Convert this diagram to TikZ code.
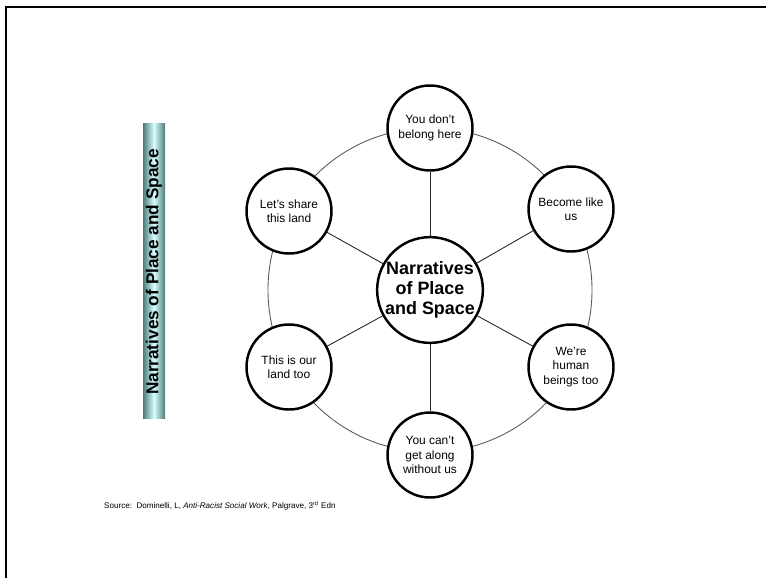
\documentclass[tikz,border=0pt]{standalone}
\usepackage{fontspec}
\setmainfont{Liberation Sans}
\usetikzlibrary{positioning,backgrounds}

\tikzset{
  topic/.style={circle, draw=black, line width=1.4pt, fill=white, minimum size=1.7cm,
    inner sep=0pt, align=center, font=\fontsize{6.8}{8.2}\selectfont},
  hub/.style={circle, draw=black, line width=1.4pt, fill=white, minimum size=2.1cm,
    inner sep=0pt, align=center, font=\bfseries\fontsize{10.2}{11.4}\selectfont},
  spoke/.style={draw=black!85, line width=0.5pt},
  ring/.style={draw=black!65, line width=0.5pt}
}

\begin{document}
\begin{tikzpicture}[x=0.02cm, y=-0.02cm]
    \useasboundingbox (0,0) rectangle (766,578);
    % frame
    \draw[line width=1.4pt] (6,578) -- (6,7) -- (766,7);
    % side bar
    \shade[left color=black!55!cyan!40!gray, right color=black!55!cyan!40!gray, middle color=cyan!15!white]
        (143,123) rectangle (165,418);
    \node[rotate=90, font=\bfseries\fontsize{9.8}{12}\selectfont] (title) at (154,272) {Narratives of Place and Space};

    \node[hub] (hub) at (430,290) {Narratives\\of Place\\and Space};

    \node[topic] (n1) at (430,128) {You don't\\belong here};
    \node[topic] (n2) at (571,209) {Become like\\us};
    \node[topic] (n3) at (571,367) {We're\\human\\beings too};
    \node[topic] (n4) at (430,455) {You can't\\get along\\without us};
    \node[topic] (n5) at (289,367) {This is our\\land too};
    \node[topic] (n6) at (289,211) {Let's share\\this land};

    \begin{pgfonlayer}{background}
      \draw[ring] (hub.center) circle (162);
      \foreach \n in {n1,n2,n3,n4,n5,n6}
        \draw[spoke] (hub) -- (\n);
    \end{pgfonlayer}

    \node[anchor=west, font=\fontsize{4.6}{5.5}\selectfont] (source) at (98,506)
      {Source:\ \ Dominelli, L, \textit{Anti-Racist Social Work}, Palgrave, 3\textsuperscript{rd} Edn};
\end{tikzpicture}
\end{document}
